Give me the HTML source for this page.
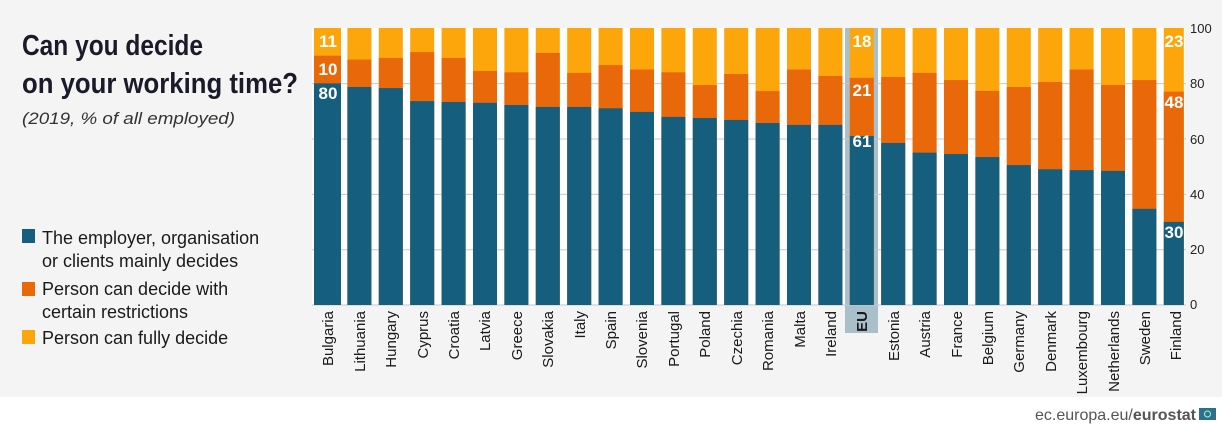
<!DOCTYPE html>
<html><head><meta charset="utf-8"><style>
html,body{margin:0;padding:0;background:#fff}
svg{display:block}
</style></head><body>
<svg width="1222" height="431" viewBox="0 0 1222 431" xmlns="http://www.w3.org/2000/svg" font-family="Liberation Sans, sans-serif">
<rect x="0" y="0" width="1222" height="397" fill="#f4f4f4"/>
<rect x="0" y="397" width="1222" height="34" fill="#fff"/>
<rect x="312" y="28" width="873" height="277" fill="#fbfdfe"/>
<rect x="845" y="28" width="33" height="305" fill="#a9bfca"/>
<g stroke="#c8c8c8" stroke-width="1">
<line x1="312" y1="83.6" x2="1186" y2="83.6"/><line x1="312" y1="139" x2="1186" y2="139"/><line x1="312" y1="194.4" x2="1186" y2="194.4"/><line x1="312" y1="249.8" x2="1186" y2="249.8"/><line x1="312" y1="305" x2="1186" y2="305"/>
</g>
<g transform="translate(0,305) scale(1,-2.77)">
<g fill="#fca60c">
<rect x="314" y="0" width="27" height="100"/><rect x="347.4" y="0" width="24" height="100"/><rect x="378.8" y="0" width="24" height="100"/><rect x="410.2" y="0" width="24" height="100"/><rect x="441.6" y="0" width="24" height="100"/><rect x="473" y="0" width="24" height="100"/><rect x="504.4" y="0" width="24" height="100"/><rect x="535.8" y="0" width="24" height="100"/><rect x="567.2" y="0" width="24" height="100"/><rect x="598.6" y="0" width="24" height="100"/><rect x="630" y="0" width="24" height="100"/><rect x="661.4" y="0" width="24" height="100"/><rect x="692.8" y="0" width="24" height="100"/><rect x="724.2" y="0" width="24" height="100"/><rect x="755.6" y="0" width="24" height="100"/><rect x="787" y="0" width="24" height="100"/><rect x="818.4" y="0" width="24" height="100"/><rect x="849.8" y="0" width="24" height="100"/><rect x="881.2" y="0" width="24" height="100"/><rect x="912.6" y="0" width="24" height="100"/><rect x="944" y="0" width="24" height="100"/><rect x="975.4" y="0" width="24" height="100"/><rect x="1006.8" y="0" width="24" height="100"/><rect x="1038.2" y="0" width="24" height="100"/><rect x="1069.6" y="0" width="24" height="100"/><rect x="1101" y="0" width="24" height="100"/><rect x="1132.4" y="0" width="24" height="100"/><rect x="1163.8" y="0" width="20" height="100"/>
</g>
<g fill="#e8680a">
<rect x="314" y="0" width="27" height="90"/><rect x="347.4" y="0" width="24" height="88.6"/><rect x="378.8" y="0" width="24" height="89.2"/><rect x="410.2" y="0" width="24" height="91.3"/><rect x="441.6" y="0" width="24" height="89.2"/><rect x="473" y="0" width="24" height="84.5"/><rect x="504.4" y="0" width="24" height="84"/><rect x="535.8" y="0" width="24" height="91"/><rect x="567.2" y="0" width="24" height="83.8"/><rect x="598.6" y="0" width="24" height="86.6"/><rect x="630" y="0" width="24" height="85"/><rect x="661.4" y="0" width="24" height="84"/><rect x="692.8" y="0" width="24" height="79.4"/><rect x="724.2" y="0" width="24" height="83.4"/><rect x="755.6" y="0" width="24" height="77.2"/><rect x="787" y="0" width="24" height="85"/><rect x="818.4" y="0" width="24" height="82.7"/><rect x="849.8" y="0" width="24" height="82"/><rect x="881.2" y="0" width="24" height="82.3"/><rect x="912.6" y="0" width="24" height="83.8"/><rect x="944" y="0" width="24" height="81.2"/><rect x="975.4" y="0" width="24" height="77.3"/><rect x="1006.8" y="0" width="24" height="78.7"/><rect x="1038.2" y="0" width="24" height="80.5"/><rect x="1069.6" y="0" width="24" height="85"/><rect x="1101" y="0" width="24" height="79.4"/><rect x="1132.4" y="0" width="24" height="81.2"/><rect x="1163.8" y="0" width="20" height="77"/>
</g>
<g fill="#155e7d">
<rect x="314" y="0" width="27" height="80"/><rect x="347.4" y="0" width="24" height="78.7"/><rect x="378.8" y="0" width="24" height="78.3"/><rect x="410.2" y="0" width="24" height="73.6"/><rect x="441.6" y="0" width="24" height="73.3"/><rect x="473" y="0" width="24" height="73"/><rect x="504.4" y="0" width="24" height="72.2"/><rect x="535.8" y="0" width="24" height="71.5"/><rect x="567.2" y="0" width="24" height="71.5"/><rect x="598.6" y="0" width="24" height="71"/><rect x="630" y="0" width="24" height="69.7"/><rect x="661.4" y="0" width="24" height="67.9"/><rect x="692.8" y="0" width="24" height="67.5"/><rect x="724.2" y="0" width="24" height="66.8"/><rect x="755.6" y="0" width="24" height="65.7"/><rect x="787" y="0" width="24" height="65"/><rect x="818.4" y="0" width="24" height="65"/><rect x="849.8" y="0" width="24" height="61"/><rect x="881.2" y="0" width="24" height="58.5"/><rect x="912.6" y="0" width="24" height="55"/><rect x="944" y="0" width="24" height="54.5"/><rect x="975.4" y="0" width="24" height="53.4"/><rect x="1006.8" y="0" width="24" height="50.5"/><rect x="1038.2" y="0" width="24" height="49"/><rect x="1069.6" y="0" width="24" height="48.7"/><rect x="1101" y="0" width="24" height="48.4"/><rect x="1132.4" y="0" width="24" height="34.7"/><rect x="1163.8" y="0" width="20" height="30"/>
</g>
</g>
<g fill="#fff" font-weight="bold" font-size="17" text-anchor="middle">
<text x="328" y="47">11</text><text x="328" y="75">10</text><text x="328" y="99">80</text>
<text x="862" y="47">18</text><text x="862" y="96">21</text><text x="862" y="147">61</text>
<text x="1174" y="47">23</text><text x="1174" y="108">48</text><text x="1174" y="238">30</text>
</g>
<g fill="#222" font-size="13">
<text x="1190" y="33">100</text><text x="1190" y="88">80</text><text x="1190" y="144">60</text><text x="1190" y="199">40</text><text x="1190" y="254">20</text><text x="1190" y="309">0</text>
</g>
<g fill="#1a1a1a" font-size="15" text-anchor="end">
<text transform="translate(333,311) rotate(-90)">Bulgaria</text>
<text transform="translate(365,311) rotate(-90)">Lithuania</text>
<text transform="translate(396,311) rotate(-90)">Hungary</text>
<text transform="translate(428,311) rotate(-90)">Cyprus</text>
<text transform="translate(459,311) rotate(-90)">Croatia</text>
<text transform="translate(490,311) rotate(-90)">Latvia</text>
<text transform="translate(522,311) rotate(-90)">Greece</text>
<text transform="translate(553,311) rotate(-90)">Slovakia</text>
<text transform="translate(585,311) rotate(-90)">Italy</text>
<text transform="translate(616,311) rotate(-90)">Spain</text>
<text transform="translate(647,311) rotate(-90)">Slovenia</text>
<text transform="translate(679,311) rotate(-90)">Portugal</text>
<text transform="translate(710,311) rotate(-90)">Poland</text>
<text transform="translate(742,311) rotate(-90)">Czechia</text>
<text transform="translate(773,311) rotate(-90)">Romania</text>
<text transform="translate(805,311) rotate(-90)">Malta</text>
<text transform="translate(836,311) rotate(-90)">Ireland</text>
<text transform="translate(867,311) rotate(-90)" font-weight="bold">EU</text>
<text transform="translate(899,311) rotate(-90)">Estonia</text>
<text transform="translate(930,311) rotate(-90)">Austria</text>
<text transform="translate(962,311) rotate(-90)">France</text>
<text transform="translate(993,311) rotate(-90)">Belgium</text>
<text transform="translate(1024,311) rotate(-90)">Germany</text>
<text transform="translate(1056,311) rotate(-90)">Denmark</text>
<text transform="translate(1087,311) rotate(-90)">Luxembourg</text>
<text transform="translate(1119,311) rotate(-90)">Netherlands</text>
<text transform="translate(1150,311) rotate(-90)">Sweden</text>
<text transform="translate(1181,311) rotate(-90)">Finland</text>
</g>
<g fill="#1a1a2a" font-weight="bold" font-size="29">
<text x="22" y="55" textLength="181" lengthAdjust="spacingAndGlyphs">Can you decide</text>
<text x="22" y="93" textLength="276" lengthAdjust="spacingAndGlyphs">on your working time?</text>
</g>
<text x="22" y="124" font-size="17" font-style="italic" fill="#333" textLength="213" lengthAdjust="spacingAndGlyphs">(2019, % of all employed)</text>
<rect x="22" y="229" width="13" height="14" fill="#155e7d"/>
<rect x="22" y="282" width="13" height="14" fill="#e8680a"/>
<rect x="22" y="330" width="13" height="14" fill="#fca60c"/>
<g fill="#1a1a1a" font-size="18">
<text x="42" y="244">The employer, organisation</text>
<text x="42" y="267">or clients mainly decides</text>
<text x="42" y="295">Person can decide with</text>
<text x="42" y="318">certain restrictions</text>
<text x="42" y="344">Person can fully decide</text>
</g>
<text x="1196" y="420" font-size="16" text-anchor="end" fill="#555">ec.europa.eu/<tspan font-weight="bold">eurostat</tspan></text>
<rect x="1199" y="408" width="17" height="12" fill="#2f6f8a"/>
<circle cx="1207.5" cy="414" r="3" fill="none" stroke="#9fd" stroke-width="1"/>
</svg>
</body></html>
